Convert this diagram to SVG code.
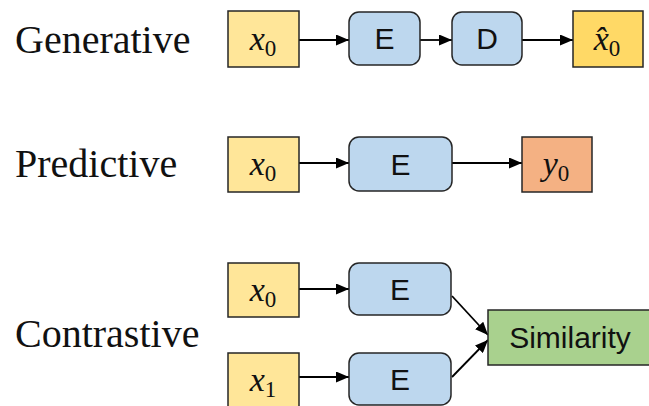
<svg xmlns="http://www.w3.org/2000/svg" width="649" height="406" viewBox="0 0 649 406">
  <style>
    .title { font-family: "Liberation Serif", "Times New Roman", serif; font-size: 40px; fill: #111; }
    .sym { font-family: "Liberation Serif", "Times New Roman", serif; font-size: 34px; font-style: italic; fill: #111; text-anchor: middle; }
    .sub { font-size: 23px; font-style: normal; }
    .lbl { font-family: "Liberation Sans", Arial, sans-serif; font-size: 30px; fill: #111; text-anchor: middle; }
    .in { fill: #FFE699; stroke: #262626; stroke-width: 1.5; }
    .recon { fill: #FFD966; stroke: #262626; stroke-width: 1.5; }
    .out { fill: #F4B183; stroke: #262626; stroke-width: 1.5; }
    .enc { fill: #BDD7EE; stroke: #262626; stroke-width: 1.5; }
    .sim { fill: #A9D18E; stroke: #262626; stroke-width: 1.5; }
    .edge { stroke: #000; stroke-width: 1.8; fill: none; marker-end: url(#arrow); }
  </style>
  <defs>
    <marker id="arrow" viewBox="0 0 13 11" refX="13" refY="5.5" markerWidth="13" markerHeight="11" markerUnits="userSpaceOnUse" orient="auto">
      <path d="M0,0 L13,5.5 L0,11 Z" fill="#000"/>
    </marker>
  </defs>
  <rect width="649" height="406" fill="#fff"/>

  <!-- row titles -->
  <text class="title" x="15" y="53">Generative</text>
  <text class="title" x="15" y="177">Predictive</text>
  <text class="title" x="15" y="347">Contrastive</text>

  <!-- connectors -->
  <g id="connectors">
    <line class="edge" x1="299" y1="40" x2="349" y2="40"/>
    <line class="edge" x1="420" y1="40" x2="452" y2="40"/>
    <line class="edge" x1="522" y1="40" x2="573" y2="40"/>
    <line class="edge" x1="299" y1="163" x2="349" y2="163"/>
    <line class="edge" x1="452" y1="163" x2="522" y2="163"/>
    <line class="edge" x1="299" y1="289" x2="349" y2="289"/>
    <line class="edge" x1="299" y1="377" x2="349" y2="377"/>
    <line class="edge" x1="452" y1="296" x2="488" y2="335"/>
    <line class="edge" x1="452" y1="377" x2="488" y2="340"/>
  </g>

  <!-- generative row -->
  <g id="gen-x0">
    <rect class="in" x="228" y="11" width="71" height="56"/>
    <text class="sym" x="263" y="50">x<tspan class="sub" dy="6">0</tspan></text>
  </g>
  <g id="gen-enc">
    <rect class="enc" x="349" y="12" width="71" height="53" rx="10"/>
    <text class="lbl" x="384.5" y="49">E</text>
  </g>
  <g id="gen-dec">
    <rect class="enc" x="452" y="12" width="70" height="53" rx="10"/>
    <text class="lbl" x="487" y="49">D</text>
  </g>
  <g id="gen-xhat">
    <rect class="recon" x="573" y="11" width="70" height="56"/>
    <text class="sym" x="607" y="50">x&#x302;<tspan class="sub" dy="6">0</tspan></text>
  </g>

  <!-- predictive row -->
  <g id="pred-x0">
    <rect class="in" x="228" y="137" width="71" height="55"/>
    <text class="sym" x="263" y="175">x<tspan class="sub" dy="6">0</tspan></text>
  </g>
  <g id="pred-enc">
    <rect class="enc" x="349" y="137" width="103" height="54" rx="10"/>
    <text class="lbl" x="400.5" y="175">E</text>
  </g>
  <g id="pred-y0">
    <rect class="out" x="522" y="137" width="70" height="55"/>
    <text class="sym" x="556" y="175">y<tspan class="sub" dy="6">0</tspan></text>
  </g>

  <!-- contrastive row -->
  <g id="con-x0">
    <rect class="in" x="228" y="263" width="71" height="54"/>
    <text class="sym" x="263" y="301">x<tspan class="sub" dy="6">0</tspan></text>
  </g>
  <g id="con-enc0">
    <rect class="enc" x="349" y="263" width="102" height="52" rx="10"/>
    <text class="lbl" x="400" y="300">E</text>
  </g>
  <g id="con-x1">
    <rect class="in" x="228" y="353" width="71" height="58"/>
    <text class="sym" x="263" y="391">x<tspan class="sub" dy="6">1</tspan></text>
  </g>
  <g id="con-enc1">
    <rect class="enc" x="349" y="353" width="102" height="52" rx="10"/>
    <text class="lbl" x="400" y="390">E</text>
  </g>
  <g id="con-sim">
    <rect class="sim" x="488" y="310" width="164" height="55"/>
    <text class="lbl" x="570" y="348">Similarity</text>
  </g>
</svg>
